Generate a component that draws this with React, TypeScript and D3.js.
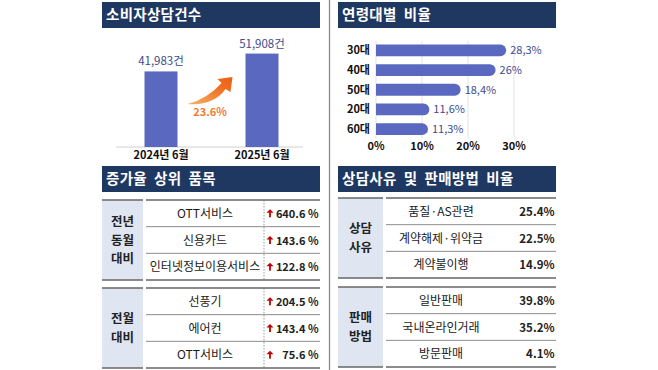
import React from 'react';
import * as d3 from 'd3';

// 소비자상담건수
const countLabels = ['2024년 6월', '2025년 6월'];
const countValues = [41983, 51908];
const growthText = '23.6%';

// 연령대별 비율
const ageLabels = ['30대', '40대', '50대', '20대', '60대'];
const ageValues = [28.3, 26, 18.4, 11.6, 11.3];
const ageTicks = [0, 10, 20, 30];

// 증가율 상위 품목
const yoyItems = ['OTT서비스', '신용카드', '인터넷정보이용서비스'];
const yoyValues = [640.6, 143.6, 122.8];
const momItems = ['선풍기', '에어컨', 'OTT서비스'];
const momValues = [204.5, 143.4, 75.6];

// 상담사유 및 판매방법 비율
const reasonItems = ['품질·AS관련', '계약해제·위약금', '계약불이행'];
const reasonValues = [25.4, 22.5, 14.9];
const salesItems = ['일반판매', '국내온라인거래', '방문판매'];
const salesValues = [39.8, 35.2, 4.1];

const FONT = '"Noto Sans CJK KR", "Noto Sans", sans-serif';
const NAVY = '#1f3862';
const BAR = '#5a69bf';
const LABEL = '#3e4b8e';
const CATBG = '#dfe5f1';

const Header = ({ x, y, w, text }: { x: number; y: number; w: number; text: string }) => (
  <g>
    <rect x={x} y={y} width={w} height={26} fill={NAVY} />
    <text x={x + 4} y={y + 18} fill="#fff" fontSize={14.5} fontWeight={700} letterSpacing={0.3} xmlSpace="preserve">{text}</text>
  </g>
);

const UpArrow = ({ x, y }: { x: number; y: number }) => (
  <g fill="#c00000">
    <path d={`M${x},${y - 5} L${x + 3.5},${y - 1.5} L${x - 3.5},${y - 1.5} Z`} />
    <rect x={x - 0.9} y={y - 2} width={1.8} height={5} />
  </g>
);

type BlockProps = {
  top: number;
  catLines: string[];
  items: string[];
  values: number[];
  x0: number; catW: number; itemX: number; itemCenter: number; right: number;
  divider?: number;
  fmt: (v: number) => string;
  arrowX?: number;
  lineSpacing: number;
  valueSize: number;
};

const TableBlock = (p: BlockProps) => {
  const rows = d3.scaleBand<string>().domain(p.items.map((d, i) => `${i}`)).range([p.top, p.top + 80]);
  const bottom = p.top + 80;
  const mid = (p.top + bottom) / 2;
  const n = p.catLines.length;
  return (
    <g>
      <rect x={p.x0} y={p.top} width={p.catW} height={80} fill={CATBG} />
      {p.catLines.map((t, i) => (
        <text key={t} x={p.x0 + p.catW / 2} y={mid + (i - (n - 1) / 2) * p.lineSpacing + 4.5}
          textAnchor="middle" fontSize={12.5} fontWeight={700} fill="#222">{t}</text>
      ))}
      {p.divider !== undefined && (
        <line x1={p.divider} x2={p.divider} y1={p.top} y2={bottom} stroke="#999" strokeDasharray="1.5,1.5" />
      )}
      {p.items.map((it, i) => {
        const y0 = rows(`${i}`) as number;
        const cy = y0 + rows.bandwidth() / 2;
        return (
          <g key={i}>
            {i > 0 && <line x1={p.itemX} x2={p.right} y1={y0} y2={y0} stroke="#8c8c8c" strokeWidth={1} />}
            <text x={p.itemCenter} y={cy + 4.5} textAnchor="middle" fontSize={12} fill="#1a1a1a">{it}</text>
            {p.arrowX !== undefined && <UpArrow x={p.arrowX} y={cy + 1} />}
            <text x={p.right - 1.5} y={cy + 4.5} textAnchor="end" fontSize={p.valueSize} fontWeight={700} fill="#222">{p.fmt(p.values[i])}</text>
          </g>
        );
      })}
      <line x1={p.x0} x2={p.x0 + p.catW} y1={p.top} y2={p.top} stroke="#666" strokeWidth={1.6} />
      <line x1={p.itemX} x2={p.right} y1={p.top} y2={p.top} stroke="#666" strokeWidth={1.6} />
      <line x1={p.x0} x2={p.x0 + p.catW} y1={bottom} y2={bottom} stroke="#666" strokeWidth={1.6} />
      <line x1={p.itemX} x2={p.right} y1={bottom} y2={bottom} stroke="#666" strokeWidth={1.6} />
    </g>
  );
};

export default function App() {
  // left top: count bars
  const xc = d3.scalePoint<string>().domain(countLabels).range([161, 262]);
  const yc = d3.scaleLinear().domain([0, 60000]).range([147, 39]);
  const barW = 33;
  const fmtCount = d3.format(',');

  // arrow anchors from bar geometry
  const ax = (xc(countLabels[0]) as number) + barW / 2 + 10;
  const bx = (xc(countLabels[1]) as number) - barW / 2 - 13;
  const ay = 104;
  const by = 77;
  const arrowPath = [
    `M${ax},${ay}`,
    `Q${ax + 26},${ay + 2} ${bx - 7},${by + 12}`,
    `L${bx - 2},${by + 15}`,
    `L${bx},${by}`,
    `L${bx - 15},${by + 2}`,
    `L${bx - 11},${by + 6}`,
    `Q${ax + 20},${ay - 5} ${ax},${ay}`,
    'Z',
  ].join(' ');

  // right top: age bars
  const xa = d3.scaleLinear().domain([0, 30]).range([376, 514]);
  const ya = d3.scaleBand<string>().domain(ageLabels).range([40.5, 139]).paddingInner(0.4).paddingOuter(0.2);
  const bh = ya.bandwidth();

  const roundedBar = (x0: number, x1: number, y0: number, h: number) => {
    const r = Math.min(h / 2, x1 - x0);
    return `M${x0},${y0} H${x1 - r} A${r},${r} 0 0 1 ${x1},${y0 + r} A${r},${r} 0 0 1 ${x1 - r},${y0 + h} H${x0} Z`;
  };

  const fmtPctL = (v: number) => `${v.toFixed(1)} %`;
  const fmtPctR = (v: number) => `${v.toFixed(1)}%`;

  return (
    <svg width={658} height={370} style={{ position: 'absolute', left: 0, top: 0, background: '#fff' }} fontFamily={FONT}>
      <defs>
        <linearGradient id="arrowGrad" x1="0" y1="1" x2="1" y2="0">
          <stop offset="0%" stopColor="#f7b26a" />
          <stop offset="60%" stopColor="#f07428" />
          <stop offset="100%" stopColor="#ec5f12" />
        </linearGradient>
      </defs>

      {/* divider */}
      <line x1={329.5} x2={329.5} y1={0} y2={370} stroke="#8a8a8a" strokeWidth={1.3} />

      {/* 소비자상담건수 */}
      <Header x={102} y={2} w={218} text="소비자상담건수" />
      <line x1={116} x2={303} y1={147} y2={147} stroke="#d0d0d0" />
      {countLabels.map((c, i) => (
        <g key={c}>
          <rect x={(xc(c) as number) - barW / 2} y={yc(countValues[i])} width={barW} height={147 - yc(countValues[i])} fill={BAR} />
          <text x={xc(c)} y={yc(countValues[i]) - 6} textAnchor="middle" fontSize={11.5} fill={LABEL}>{fmtCount(countValues[i])}건</text>
          <text x={xc(c)} y={159} textAnchor="middle" fontSize={11} fontWeight={700} fill="#111">{c}</text>
        </g>
      ))}
      <path d={arrowPath} fill="url(#arrowGrad)" />
      <text x={(ax + bx) / 2} y={116} textAnchor="middle" fontSize={11} fontWeight={700} fill="#ee7d35">{growthText}</text>

      {/* 연령대별 비율 */}
      <Header x={338} y={2} w={218} text="연령대별  비율" />
      {ageTicks.map(t => (
        <g key={t}>
          <line x1={xa(t)} x2={xa(t)} y1={41} y2={138} stroke="#e3e3e3" />
          <text x={xa(t)} y={150} textAnchor="middle" fontSize={11} fontWeight={700} fill="#111">{t}%</text>
        </g>
      ))}
      {ageLabels.map((a, i) => {
        const y0 = ya(a) as number;
        return (
          <g key={a}>
            <path d={roundedBar(xa(0), xa(ageValues[i]), y0, bh)} fill={BAR} />
            <text x={370} y={y0 + bh / 2 + 4} textAnchor="end" fontSize={11} fontWeight={700} fill="#111">{a}</text>
            <text x={xa(ageValues[i]) + 4} y={y0 + bh / 2 + 4} fontSize={11} fill={LABEL}>{`${ageValues[i]}`.replace('.', ',')}%</text>
          </g>
        );
      })}

      {/* 증가율 상위 품목 */}
      <Header x={102} y={166} w={218} text="증가율  상위  품목" />
      <TableBlock top={200} catLines={['전년', '동월', '대비']} items={yoyItems} values={yoyValues}
        x0={102} catW={41} itemX={146} itemCenter={205} right={320} divider={264} arrowX={270}
        fmt={fmtPctL} lineSpacing={18.5} valueSize={11} />
      <TableBlock top={288} catLines={['전월', '대비']} items={momItems} values={momValues}
        x0={102} catW={41} itemX={146} itemCenter={205} right={320} divider={264} arrowX={270}
        fmt={fmtPctL} lineSpacing={18.5} valueSize={11} />

      {/* 상담사유 및 판매방법 비율 */}
      <Header x={338} y={166} w={218} text="상담사유  및  판매방법  비율" />
      <TableBlock top={198} catLines={['상담', '사유']} items={reasonItems} values={reasonValues}
        x0={338} catW={45} itemX={386} itemCenter={441} right={556}
        fmt={fmtPctR} lineSpacing={18.5} valueSize={11.5} />
      <TableBlock top={287} catLines={['판매', '방법']} items={salesItems} values={salesValues}
        x0={338} catW={45} itemX={386} itemCenter={441} right={556}
        fmt={fmtPctR} lineSpacing={18.5} valueSize={11.5} />
    </svg>
  );
}
